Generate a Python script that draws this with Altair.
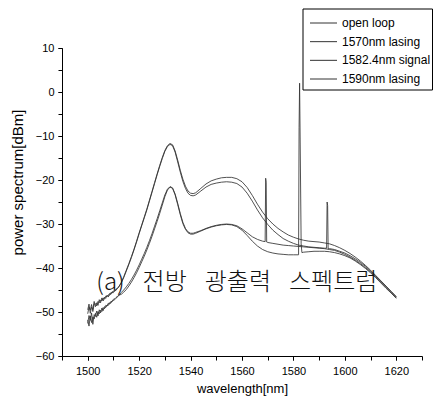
import altair as alt
import pandas as pd

SERIES = ["open loop", "1570nm lasing", "1582.4nm signal", "1590nm lasing"]

WL = [
    1500, 1500.5, 1501, 1501.5, 1502,
    1502.5, 1503, 1503.5, 1504, 1504.5,
    1505, 1505.5, 1506, 1506.5, 1507,
    1507.5, 1508, 1508.5, 1509, 1509.5,
    1510, 1510.5, 1511, 1511.5, 1512,
    1513, 1514, 1515, 1516, 1517,
    1518, 1519, 1520, 1521, 1522,
    1523, 1524, 1525, 1526, 1527,
    1528, 1529, 1530, 1531, 1532,
    1533, 1534, 1535, 1536, 1537,
    1538, 1539, 1540, 1541, 1542,
    1544, 1546, 1548, 1550, 1552,
    1554, 1556, 1558, 1560, 1562,
    1564, 1566, 1568, 1570, 1572,
    1574, 1576, 1578, 1580, 1582,
    1584, 1586, 1588, 1590, 1592,
    1594, 1596, 1598, 1600, 1602,
    1604, 1606, 1608, 1610, 1612,
    1614, 1616, 1618, 1620,
]

OPEN_LOOP = [
    -49.5, -48.2, -50.3, -48.9, -49.4,
    -47.6, -48.8, -47.9, -48.5, -47.2,
    -47.9, -46.8, -47.5, -46.6, -46.9,
    -46.2, -46.6, -45.8, -46.0, -45.4,
    -45.6, -45.0, -45.1, -44.6, -44.4,
    -43.3, -42.0, -40.5, -39.0, -37.4,
    -35.7, -33.9, -32.0, -30.2, -28.4,
    -26.6, -24.6, -22.6, -20.6, -18.6,
    -16.7, -14.9, -13.3, -12.2, -11.7,
    -12.0, -13.4, -15.5, -17.8, -19.8,
    -21.4, -22.5, -23.0, -23.1, -22.9,
    -21.9, -20.9, -20.2, -19.8, -19.5,
    -19.4, -19.4, -19.7, -20.4, -21.7,
    -23.5, -25.5, -27.3, -28.8, -30.0,
    -31.0, -31.8, -32.5, -33.0, -33.4,
    -33.7, -33.9, -34.0, -34.1, -34.3,
    -34.5, -34.9, -35.4, -36.0, -36.7,
    -37.5, -38.4, -39.4, -40.5, -41.7,
    -42.9, -44.1, -45.3, -46.5,
]

LASING_1570 = [
    -52.6, -50.8, -51.9, -50.2, -52.8,
    -50.6, -51.0, -49.8, -50.9, -49.5,
    -50.2, -49.1, -49.7, -48.8, -49.0,
    -48.4, -48.5, -47.9, -48.0, -47.5,
    -47.4, -47.2, -46.9, -46.6, -46.3,
    -45.6, -45.0, -44.3, -43.5, -42.6,
    -41.6, -40.5, -39.3, -38.0, -36.7,
    -35.3, -33.8, -32.2, -30.5, -28.8,
    -27.0, -25.2, -23.4, -22.1, -21.5,
    -21.8, -23.2, -25.3, -27.6, -29.6,
    -31.0, -31.8, -32.1, -32.1, -31.9,
    -31.5, -31.0, -30.6, -30.3, -30.1,
    -30.0, -30.1, -30.4, -31.1, -32.0,
    -32.9, -33.5, -33.9, -34.2, -34.4,
    -34.6, -34.8, -34.9, -35.0, -35.1,
    -35.2, -35.3, -35.4, -35.5, -35.6,
    -35.8, -36.0, -36.4, -36.9, -37.5,
    -38.2, -39.0, -39.9, -40.9, -42.0,
    -43.2, -44.4, -45.6, -46.8,
]

SIGNAL_1582 = [
    -51.8, -53.2, -50.9, -52.4, -51.1,
    -51.6, -50.3, -51.2, -49.9, -50.4,
    -49.6, -49.9, -49.0, -49.3, -48.5,
    -48.7, -48.0, -48.2, -47.6, -47.6,
    -47.1, -47.0, -46.7, -46.5, -46.2,
    -46.0, -45.5, -44.9, -44.1, -43.2,
    -42.2, -41.1, -39.9, -38.6, -37.3,
    -35.9, -34.4, -32.8, -31.1, -29.4,
    -27.6, -25.7, -23.8, -22.3, -21.6,
    -21.9, -23.4, -25.6, -27.9, -29.9,
    -31.2, -32.0, -32.3, -32.3, -32.1,
    -31.6, -31.1, -30.7, -30.4, -30.2,
    -30.1, -30.2, -30.6, -31.4, -32.6,
    -33.9, -35.0, -35.8, -36.3, -36.6,
    -36.8, -36.9, -37.0, -37.0, -37.0,
    -36.4, -36.3, -36.2, -36.2, -36.2,
    -36.3, -36.5, -36.8, -37.2, -37.7,
    -38.4, -39.2, -40.1, -41.1, -42.2,
    -43.4, -44.6, -45.7, -46.9,
]

LASING_1590 = [
    -50.4, -48.9, -49.6, -48.3, -49.9,
    -48.2, -48.1, -48.6, -47.6, -47.9,
    -47.3, -47.4, -46.8, -47.1, -46.4,
    -46.5, -46.1, -46.2, -45.6, -45.7,
    -45.2, -45.3, -44.8, -44.7, -44.3,
    -43.5, -42.2, -40.7, -39.2, -37.6,
    -35.9, -34.1, -32.2, -30.4, -28.6,
    -26.8, -24.8, -22.8, -20.8, -18.8,
    -16.9, -15.1, -13.5, -12.4, -11.9,
    -12.2, -13.7, -15.9, -18.2, -20.3,
    -21.9, -23.0, -23.5, -23.6, -23.4,
    -22.5, -21.6, -21.0, -20.7, -20.5,
    -20.4, -20.5, -20.8, -21.6, -23.0,
    -24.8, -26.8, -28.6, -30.1, -31.4,
    -32.4, -33.3, -33.9, -34.4, -34.8,
    -35.0, -35.2, -35.3, -35.4, -35.5,
    -35.6, -35.8, -36.2, -36.6, -37.2,
    -37.9, -38.7, -39.6, -40.7, -41.8,
    -43.0, -44.2, -45.4, -46.6,
]

# narrow lasing / signal lines
SPIKE_1570_WL = [1569.0, 1569.2, 1569.4, 1569.6]
SPIKE_1570_DB = [-34.0, -19.6, -20.5, -34.1]
SPIKE_1582_WL = [1581.9, 1582.2, 1582.4, 1582.6, 1583.0, 1583.3]
SPIKE_1582_DB = [-37.0, -8.0, 2.0, -10.0, -34.5, -36.5]
SPIKE_1590_WL = [1592.9, 1593.1, 1593.3, 1593.5]
SPIKE_1590_DB = [-35.5, -25.0, -25.8, -35.6]

X_MAJOR = [1500, 1520, 1540, 1560, 1580, 1600, 1620]
X_MINOR = [1490, 1500, 1510, 1520, 1530, 1540, 1550, 1560, 1570, 1580, 1590, 1600, 1610, 1620, 1630]
Y_MAJOR = [-60, -50, -40, -30, -20, -10, 0, 10]
Y_MINOR = [-60, -55, -50, -45, -40, -35, -30, -25, -20, -15, -10, -5, 0, 5, 10]

ANNOT_TEXT = "(a)\u2002\u2005전방\u2002\u2005광출력\u2002\u2005스펙트럼"
ANNOT_WL = 1558
ANNOT_DB = -43.3

series_values = {
    "open loop": (OPEN_LOOP, [], []),
    "1570nm lasing": (LASING_1570, SPIKE_1570_WL, SPIKE_1570_DB),
    "1582.4nm signal": (SIGNAL_1582, SPIKE_1582_WL, SPIKE_1582_DB),
    "1590nm lasing": (LASING_1590, SPIKE_1590_WL, SPIKE_1590_DB),
}

rows = []
for name in SERIES:
    vals, swl, sdb = series_values[name]
    pts = list(zip(WL, vals)) + list(zip(swl, sdb))
    pts.sort(key=lambda p: p[0])
    for i, (w, v) in enumerate(pts):
        rows.append({"series": name, "wl": w, "db": v, "ord": i})
df = pd.DataFrame(rows)

FONT = "Arial"
INK = "#333333"
X_SCALE = alt.Scale(domain=[1490, 1630], nice=False, zero=False)
Y_SCALE = alt.Scale(domain=[-60, 10], nice=False, zero=False)

lines = alt.Chart(df).mark_line(strokeWidth=0.85, color=INK).encode(
    x=alt.X(
        "wl:Q",
        scale=X_SCALE,
        axis=alt.Axis(
            values=X_MAJOR,
            format="d",
            orient="bottom",
            labelOverlap=False,
            title="wavelength[nm]",
            titleFontSize=13,
            titleY=32,
            titleBaseline="middle",
            labelPadding=5,
        ),
    ),
    y=alt.Y(
        "db:Q",
        scale=Y_SCALE,
        axis=alt.Axis(
            values=Y_MAJOR,
            format="d",
            orient="left",
            labelOverlap=False,
            title="power spectrum[dBm]",
            titleFontSize=15,
            titleAngle=270,
            titleX=-45,
            titleY=134,
            titleAlign="center",
            titleBaseline="middle",
            labelPadding=4,
        ),
    ),
    detail="series:N",
    order="ord:Q",
)

annot_df = pd.DataFrame({"wl": [ANNOT_WL], "db": [ANNOT_DB], "t": [ANNOT_TEXT]})
annot = alt.Chart(annot_df).mark_text(
    font="Noto Sans CJK KR",
    fontSize=24,
    fontWeight=300,
    color="#111111",
    align="center",
    baseline="middle",
).encode(
    x=alt.X("wl:Q", scale=X_SCALE,
            axis=alt.Axis(values=X_MINOR, labels=False, title=None, domain=False, orient="bottom")),
    y=alt.Y("db:Q", scale=Y_SCALE,
            axis=alt.Axis(values=Y_MINOR, labels=False, title=None, domain=False, orient="left")),
    text="t:N",
)

plot = alt.layer(lines, annot).resolve_axis(x="independent", y="independent")

# legend box drawn in the top-right corner
legend_df = pd.DataFrame({"series": SERIES})
LEG_Y = alt.Y("series:N", scale=alt.Scale(domain=SERIES, range=[-25, 31], type="point", padding=0), axis=None)
legend_box = alt.Chart(legend_df).mark_rect(
    fill="white", stroke="#000000", strokeWidth=1
).encode(
    x=alt.value(241), x2=alt.value(370.5), y=alt.value(-39), y2=alt.value(42)
).transform_filter(alt.datum.series == SERIES[0])
legend_rules = alt.Chart(legend_df).mark_rule(color=INK, strokeWidth=1).encode(
    x=alt.value(248), x2=alt.value(275), y=LEG_Y
)
legend_text = alt.Chart(legend_df).mark_text(
    font=FONT, fontSize=12, color="#000000", align="left", baseline="middle"
).encode(x=alt.value(280), y=LEG_Y, text="series:N")

chart = (
    alt.layer(plot, legend_box, legend_rules, legend_text)
    .resolve_scale(y="independent")
    .properties(
        width=360,
        height=308,
        autosize=alt.AutoSizeParams(type="none"),
        padding={"left": 54, "top": 40, "right": 11, "bottom": 41},
    )
    .configure_view(stroke=None)
    .configure_axis(
        grid=False,
        domainColor="#000000",
        tickColor="#000000",
        tickSize=4,
        labelFont=FONT,
        labelFontSize=11,
        labelColor="#000000",
        titleFont=FONT,
        titleFontWeight="normal",
        titleColor="#000000",
    )
)

chart.save("out.html", embed_options={"renderer": "svg", "actions": False})
